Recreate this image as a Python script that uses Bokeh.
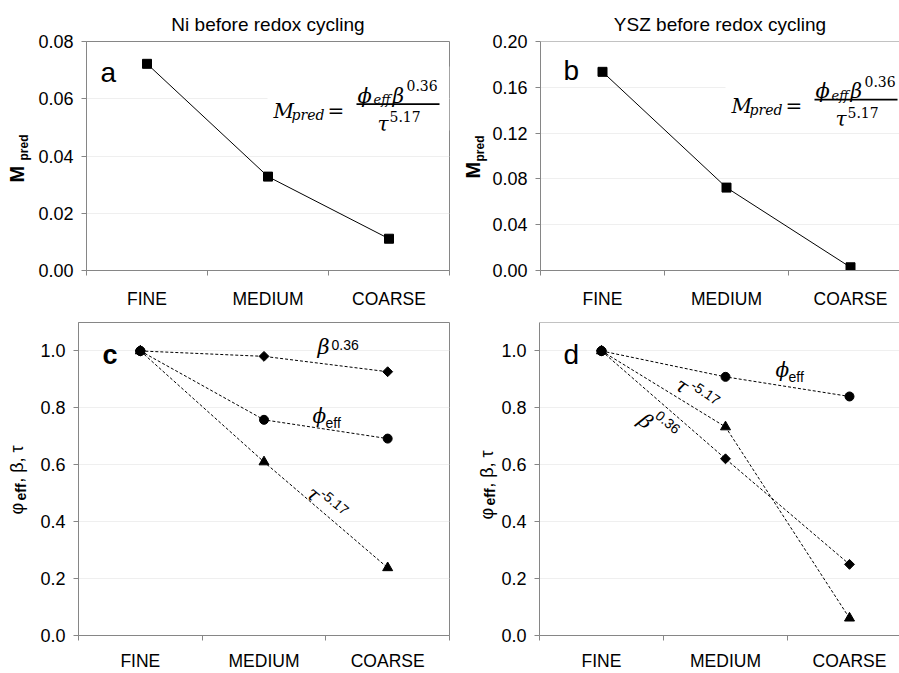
from bokeh.plotting import figure
from bokeh.models import Range1d, FixedTicker, PrintfTickFormatter, Label, BoxAnnotation, Span, Title
from bokeh.layouts import column, row
from bokeh.embed import file_html
from bokeh.resources import INLINE

# ---------------- data ----------------
categories = ["FINE", "MEDIUM", "COARSE"]
ni_mpred = [0.0722, 0.0328, 0.0111]
ysz_mpred = [0.1735, 0.0724, 0.0028]
ni_beta = [1.0, 0.981, 0.927]
ni_phi = [1.0, 0.758, 0.692]
ni_tau = [1.0, 0.610, 0.238]
ysz_phi = [1.0, 0.909, 0.840]
ysz_tau = [1.0, 0.733, 0.061]
ysz_beta = [1.0, 0.621, 0.250]
ni_mpred_ticks = [0.0, 0.02, 0.04, 0.06, 0.08]
ysz_mpred_ticks = [0.0, 0.04, 0.08, 0.12, 0.16, 0.20]
norm_ticks = [0.0, 0.2, 0.4, 0.6, 0.8, 1.0]
titles = ["Ni before redox cycling", "YSZ before redox cycling"]

AX = "#868686"
SANS = "Liberation Sans"
SERIF = "DejaVu Serif"
NB = "\u00a0"
xs = list(range(len(categories)))
bounds = [i - 0.5 for i in range(len(categories) + 1)]


def make_fig(w, h, left, right, top, bottom, xend, ymax, yticks, yfmt,
             title=None, title_offset=0, outline=True, xstandoff=13):
    p = figure(width=w, height=h, x_range=Range1d(-0.5, xend), y_range=Range1d(0, ymax),
               output_backend="svg", toolbar_location=None,
               min_border_left=left, min_border_right=right,
               min_border_top=top, min_border_bottom=bottom,
               background_fill_color="white", border_fill_color="white")
    if title:
        p.title.text = title
        p.title.text_font = SANS
        p.title.text_font_size = "19px"
        p.title.text_font_style = "normal"
        p.title.text_color = "black"
        p.title.align = "center"
        p.title.offset = title_offset
        p.title.standoff = 14
    if outline:
        p.outline_line_color = AX
    else:
        p.outline_line_color = None
        p.add_layout(Span(location=ymax, dimension="width", line_color=AX, line_width=1))
    xa = p.xaxis[0]
    xa.ticker = FixedTicker(ticks=xs, minor_ticks=bounds)
    xa.major_label_overrides = {i: c for i, c in enumerate(categories)}
    xa.major_tick_line_color = None
    xa.major_tick_out = 0
    xa.major_tick_in = 0
    xa.minor_tick_out = 5
    xa.minor_tick_in = 0
    xa.minor_tick_line_color = AX
    xa.axis_line_color = AX
    xa.major_label_standoff = xstandoff
    xa.major_label_text_font = SANS
    xa.major_label_text_font_size = "17.5px"
    xa.major_label_text_color = "black"
    ya = p.yaxis[0]
    ya.ticker = FixedTicker(ticks=yticks)
    ya.formatter = PrintfTickFormatter(format=yfmt)
    ya.major_tick_out = 5
    ya.major_tick_in = 0
    ya.minor_tick_line_color = None
    ya.major_tick_line_color = AX
    ya.axis_line_color = AX
    ya.major_label_standoff = 8
    ya.major_label_text_font = SANS
    ya.major_label_text_font_size = "18px"
    ya.major_label_text_color = "black"
    p.xgrid.visible = False
    p.ygrid.ticker = FixedTicker(ticks=yticks)
    p.ygrid.grid_line_color = "#efefef"
    return p


def put(p, fl, fb, X, Y, text, size, font=SANS, style="normal", angle=0.0):
    p.add_layout(Label(x=X - fl, y=fb - Y, x_units="screen", y_units="screen",
                       text=text, text_font=font, text_font_size=f"{size}px",
                       text_font_style=style, angle=angle, text_align="left",
                       text_baseline="alphabetic", text_color="black"))


def box(p, fl, fb, X0, X1, Y0, Y1, color, level="annotation"):
    p.add_layout(BoxAnnotation(left=X0 - fl, right=X1 - fl, top=fb - Y0, bottom=fb - Y1,
                               left_units="screen", right_units="screen",
                               top_units="screen", bottom_units="screen",
                               fill_color=color, fill_alpha=1.0, line_color=None,
                               level=level))


def side_title(p, text, size, style, offset, standoff):
    try:
        t = Title(text=text, align="left", offset=offset, standoff=standoff,
                  text_font=SANS, text_font_size=f"{size}px", text_font_style=style,
                  text_color="black")
    except Exception:
        t = Title(text=text, align="left", offset=offset, standoff=0,
                  text_font=SANS, text_font_size=f"{size}px", text_font_style=style,
                  text_color="black")
    p.add_layout(t, "left")


def formula(p, fl, fb, dx, dy, xr):
    box(p, fl, fb, 267 + dx, xr, 66 + dy, 130 + dy, "white", level="underlay")
    put(p, fl, fb, 273 + dx, 110 + dy, "M", 20, SERIF, "italic")
    put(p, fl, fb, 291 + dx, 114 + dy, "pred", 14, SERIF, "italic")
    put(p, fl, fb, 327 + dx, 110 + dy, "=", 20, SERIF)
    box(p, fl, fb, 356 + dx, 439 + dx, 102.8 + dy, 104.4 + dy, "black")
    put(p, fl, fb, 357 + dx, 95 + dy, "\u03d5", 21, SERIF, "italic")
    put(p, fl, fb, 373 + dx, 99 + dy, "eff", 13, SERIF, "italic")
    put(p, fl, fb, 392 + dx, 95 + dy, "\u03b2", 20, SERIF, "italic")
    put(p, fl, fb, 406 + dx, 85 + dy, "0.36", 14, SERIF)
    put(p, fl, fb, 377 + dx, 123 + dy, "\u03c4", 20, SERIF, "italic")
    put(p, fl, fb, 389 + dx, 116 + dy, "5.17", 14, SERIF)


def diamonds(p, ys):
    p.scatter(xs, ys, marker="square", size=7, angle=0.7854, color="black")


ylabel_main = "\u03c6" + NB * 4 + ", \u03b2, \u03c4"

# ---------------- panel a ----------------
pa = make_fig(450, 315, 86, 1, 41, 45, 2.5, 0.08, ni_mpred_ticks, "%.2f",
              title=titles[0], title_offset=-3)
FLa, FBa = 86, 270
pa.line(xs, ni_mpred, line_color="black", line_width=1)
pa.scatter(xs, ni_mpred, marker="square", size=9, color="black")
formula(pa, FLa, FBa, 0, 0, 449)
put(pa, FLa, FBa, 100, 72, "a", 28)
side_title(pa, "pred", 12, "bold", 110, 10)
side_title(pa, "M", 20, "bold", 88, -36)

# ---------------- panel b ----------------
pb = make_fig(449, 315, 90, 0, 38, 43, -0.5 + 359 / 124, 0.20, ysz_mpred_ticks, "%.2f",
              title=titles[1], title_offset=6, outline=False)
FLb, FBb = 540, 272
pb.line(xs, ysz_mpred, line_color="black", line_width=1)
pb.scatter(xs, ysz_mpred, marker="square", size=9, color="black")
formula(pb, FLb, FBb, 458, -2.5, 899)
put(pb, FLb, FBb, 563, 72, "b", 28)
side_title(pb, "pred", 12, "bold", 109, 5)
side_title(pb, "M", 20, "bold", 92, -31)

# ---------------- panel c ----------------
pc = make_fig(450, 358, 78, 1, 7, 30, 2.5, 1.1, norm_ticks, "%.1f", xstandoff=10)
FLc, FBc = 78, 643
for ys, mk, sz in ((ni_tau, "triangle", 10), (ni_phi, "circle", 9)):
    pc.line(xs, ys, line_color="black", line_width=1, line_dash="3 2")
    pc.scatter(xs, ys, marker=mk, size=sz, color="black")
pc.line(xs, ni_beta, line_color="black", line_width=1, line_dash="3 2")
diamonds(pc, ni_beta)
pc.scatter(xs[:1], ni_phi[:1], marker="circle", size=9, color="black")
put(pc, FLc, FBc, 102, 362, "c", 27, SANS, "bold")
put(pc, FLc, FBc, 317, 354, "\u03b2", 21, SERIF, "italic")
put(pc, FLc, FBc, 331, 352, "0.36", 14)
put(pc, FLc, FBc, 312, 423, "\u03d5", 20, SERIF, "italic")
put(pc, FLc, FBc, 325, 430, "eff", 14)
put(pc, FLc, FBc, 309, 498, "\u03c4", 20, SERIF, "italic", angle=-0.70)
put(pc, FLc, FBc, 322, 499, "-5.17", 14, SANS, "normal", angle=-0.70)
side_title(pc, "eff", 14, "bold", 135, 18)
side_title(pc, ylabel_main, 18, "normal", 121, -51)

# ---------------- panel d ----------------
pd = make_fig(449, 358, 89, 0, 7, 30, -0.5 + 360 / 124, 1.1, norm_ticks, "%.1f",
              outline=False, xstandoff=10)
FLd, FBd = 539, 643
for ys, mk, sz in ((ysz_tau, "triangle", 10), (ysz_phi, "circle", 9)):
    pd.line(xs, ys, line_color="black", line_width=1, line_dash="3 2")
    pd.scatter(xs, ys, marker=mk, size=sz, color="black")
pd.line(xs, ysz_beta, line_color="black", line_width=1, line_dash="3 2")
diamonds(pd, ysz_beta)
pd.scatter(xs[:1], ysz_phi[:1], marker="circle", size=9, color="black")
put(pd, FLd, FBd, 563, 362, "d", 28)
put(pd, FLd, FBd, 775, 377, "\u03d5", 20, SERIF, "italic")
put(pd, FLd, FBd, 788, 384, "eff", 14)
put(pd, FLd, FBd, 677, 390, "\u03c4", 20, SERIF, "italic", angle=-0.58)
put(pd, FLd, FBd, 692, 391, "-5.17", 14, SANS, "normal", angle=-0.60)
put(pd, FLd, FBd, 641, 425, "\u03b2", 20, SERIF, "italic", angle=-0.70)
put(pd, FLd, FBd, 657, 421, "0.36", 14, SANS, "normal", angle=-0.70)
side_title(pd, "eff", 14, "bold", 130, 2)
side_title(pd, ylabel_main, 18, "normal", 116, -36)

layout = column(row(pa, pb), row(pc, pd))
open("out.html", "w").write(file_html(layout, INLINE))
